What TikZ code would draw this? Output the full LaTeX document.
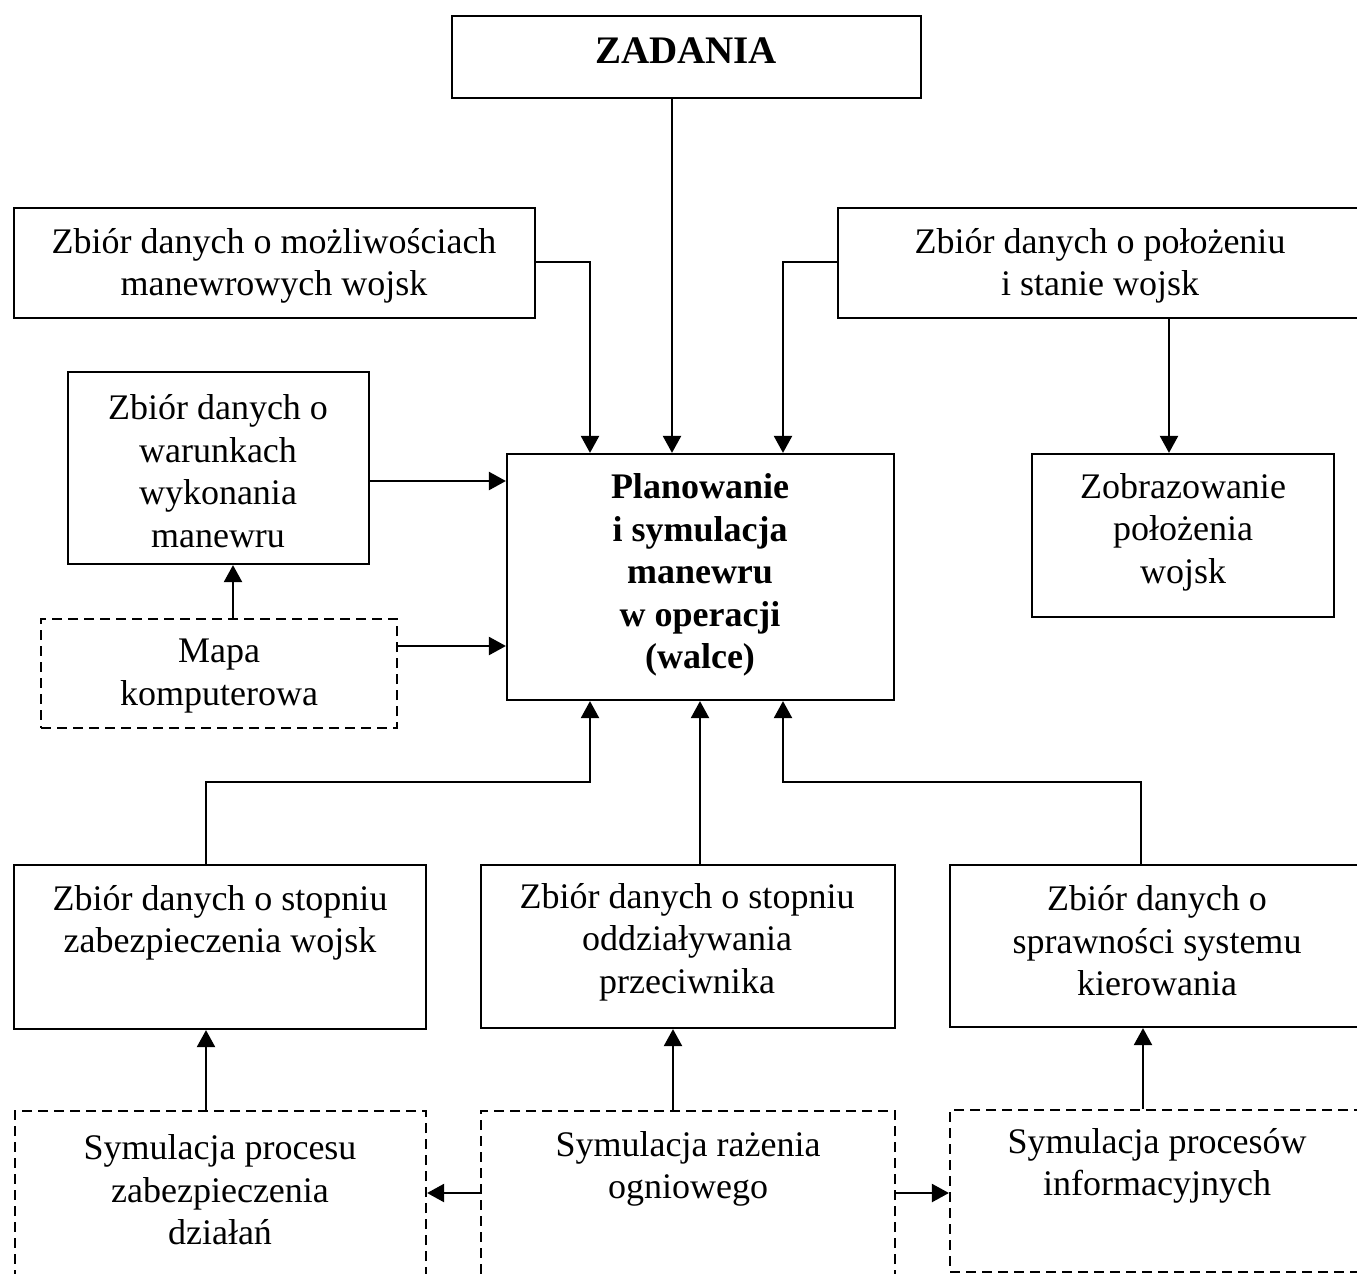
\documentclass[tikz,border=0pt]{standalone}
\usepackage{fontspec}
\setmainfont{Liberation Serif}
\usetikzlibrary{arrows.meta,fit}

\begin{document}
\begin{tikzpicture}[x=1pt,y=-1pt,
  box/.style={draw, line width=2.2pt, inner sep=0pt},
  dbox/.style={box, dash pattern=on 10pt off 6pt},
  txt/.style={align=center, inner sep=0pt, font=\fontsize{36}{42.5}\selectfont},
  btxt/.style={align=center, inner sep=0pt, font=\fontsize{36}{42.5}\selectfont\bfseries},
  arr/.style={line width=2.3pt, -{Triangle[length=17pt,width=18pt]}}]

\useasboundingbox (0,0) rectangle (1357,1274);
\clip (0,0) rectangle (1357,1274);

% columns and rows used by the connectors
\coordinate (c206) at (206,0);
\coordinate (c233) at (233,0);
\coordinate (c590) at (590,0);
\coordinate (c672) at (672,0);
\coordinate (c673) at (673,0);
\coordinate (c700) at (700,0);
\coordinate (c783) at (783,0);
\coordinate (c1141) at (1141,0);
\coordinate (c1143) at (1143,0);
\coordinate (c1169) at (1169,0);
\coordinate (r262) at (0,262);
\coordinate (r481) at (0,481);
\coordinate (r646) at (0,646);
\coordinate (r782) at (0,782);
\coordinate (r1193) at (0,1193);

% boxes
\node[box, fit={(452,16) (921,98)}] (zad) {};
\node[box, fit={(14,208) (535,318)}] (A) {};
\node[box, fit={(838,208) (1380,318)}] (B) {};
\node[box, fit={(68,372) (369,564)}] (C) {};
\node[box, fit={(507,454) (894,700)}] (M) {};
\node[box, fit={(1032,454) (1334,617)}] (D) {};
\node[dbox, fit={(41,619) (397,728)}] (Map) {};
\node[box, fit={(14,865) (426,1029)}] (E) {};
\node[box, fit={(481,865) (895,1028)}] (F) {};
\node[box, fit={(950,865) (1380,1027)}] (G) {};
\node[dbox, fit={(15,1111) (426,1330)}] (H) {};
\node[dbox, fit={(481,1111) (895,1330)}] (I) {};
\node[dbox, fit={(950,1110) (1380,1272)}] (J) {};

% texts
\node[btxt, font=\fontsize{39}{44}\selectfont\bfseries] (tzad) at (686,51) {ZADANIA};
\node[txt] (tA) at (274,266) {Zbiór danych o możliwościach\\manewrowych wojsk};
\node[txt] (tB) at (1100,266) {Zbiór danych o położeniu\\i stanie wojsk};
\node[txt] (tC) at (218,471) {Zbiór danych o\\warunkach\\wykonania\\manewru};
\node[btxt] (tM) at (700,575) {Planowanie\\i symulacja\\manewru\\w operacji\\(walce)};
\node[txt] (tD) at (1183,532) {Zobrazowanie\\położenia\\wojsk};
\node[txt] (tMap) at (219,676) {Mapa\\komputerowa};
\node[txt] (tE) at (220,923) {Zbiór danych o stopniu\\zabezpieczenia wojsk};
\node[txt] (tF) at (687,942) {Zbiór danych o stopniu\\oddziaływania\\przeciwnika};
\node[txt] (tG) at (1157,941) {Zbiór danych o\\sprawności systemu\\kierowania};
\node[txt] (tH) at (220,1190) {Symulacja procesu\\zabezpieczenia\\działań};
\node[txt] (tI) at (688,1169) {Symulacja rażenia\\ogniowego};
\node[txt] (tJ) at (1157,1166) {Symulacja procesów\\informacyjnych};

% connectors
\draw[arr] (zad.south -| c672) -- (M.north -| c672);
\draw[arr] (A.east |- r262) -| (M.north -| c590);
\draw[arr] (B.west |- r262) -| (M.north -| c783);
\draw[arr] (B.south -| c1169) -- (D.north -| c1169);
\draw[arr] (C.east |- r481) -- (M.west |- r481);
\draw[arr] (Map.north -| c233) -- (C.south -| c233);
\draw[arr] (Map.east |- r646) -- (M.west |- r646);
\draw[arr] (E.north -| c206) |- (c590 |- r782) -- (M.south -| c590);
\draw[arr] (F.north -| c700) -- (M.south -| c700);
\draw[arr] (G.north -| c1141) |- (c783 |- r782) -- (M.south -| c783);
\draw[arr] (H.north -| c206) -- (E.south -| c206);
\draw[arr] (I.north -| c673) -- (F.south -| c673);
\draw[arr] (J.north -| c1143) -- (G.south -| c1143);
\draw[arr] (I.west |- r1193) -- (H.east |- r1193);
\draw[arr] (I.east |- r1193) -- (J.west |- r1193);
\end{tikzpicture}
\end{document}
